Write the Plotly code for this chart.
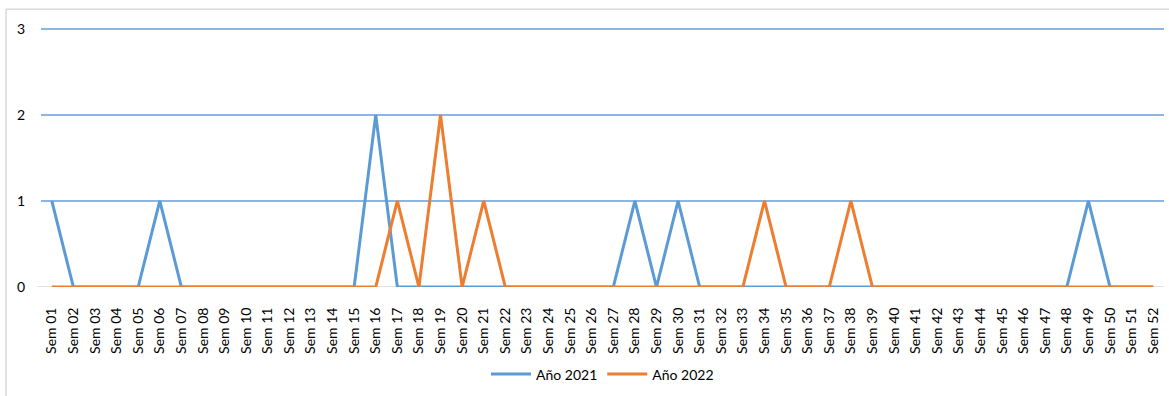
import plotly.graph_objects as go

weeks = [f"Sem {i:02d}" for i in range(1, 53)]
anio_2021 = [1,0,0,0,0,1,0,0,0,0,0,0,0,0,0,2,0,0,0,0,0,0,0,0,0,0,0,1,0,1,
             0,0,0,0,0,0,0,0,0,0,0,0,0,0,0,0,0,0,1,0,0,0]
anio_2022 = [0,0,0,0,0,0,0,0,0,0,0,0,0,0,0,0,1,0,2,0,1,0,0,0,0,0,0,0,0,0,
             0,0,0,1,0,0,0,1,0,0,0,0,0,0,0,0,0,0,0,0,0,0]
y_ticks = [0, 1, 2, 3]

fig = go.Figure()
fig.add_trace(go.Scatter(x=weeks, y=anio_2021, mode="lines", name="Año 2021",
                         line=dict(color="#5B9BD5", width=3)))
fig.add_trace(go.Scatter(x=weeks, y=anio_2022, mode="lines", name="Año 2022",
                         line=dict(color="#ED7D31", width=3)))

L, R = 41, 5
W = 1169 - L - R
T, B = 27, 107
H = 396 - T - B  # 262 px; 3 units span 260 px

def px(x):
    return (x - L) / W

def py(y):
    return (396 - B - y) / H

fig.update_layout(
    width=1169, height=396,
    margin=dict(l=L, r=R, t=T, b=B, pad=0),
    paper_bgcolor="white", plot_bgcolor="white",
    font=dict(family="Lato, Open Sans, sans-serif", size=14, color="#000000"),
    showlegend=True,
    legend=dict(orientation="h", x=0.5, xanchor="center", y=-0.275, yanchor="top",
                font=dict(size=14), itemwidth=40, bgcolor="rgba(0,0,0,0)"),
    xaxis=dict(type="category", tickangle=-90, showgrid=False, zeroline=False,
               showline=False, ticks="outside", ticklen=14, tickcolor="rgba(0,0,0,0)",
               tickfont=dict(size=14), range=[-0.5, 51.5]),
    yaxis=dict(range=[0, 3 * H / 260], tickvals=y_ticks, showgrid=True,
               gridcolor="#8DB4E2", gridwidth=1.5, zeroline=False,
               showline=False, ticks="", ticklabelstandoff=15,
               tickfont=dict(size=14)),
    shapes=[
        dict(type="rect", xref="paper", yref="paper",
             x0=px(6), x1=1.02, y0=-0.6, y1=py(9) - 1 + 1,
             line=dict(color="#D9D9D9", width=1.5), fillcolor="rgba(0,0,0,0)",
             layer="below"),
        dict(type="line", xref="paper", yref="y", x0=px(37), x1=1, y0=0, y1=0,
             line=dict(color="#D9D9D9", width=1.5), layer="below"),
    ],
)

fig.write_html("out.html")
